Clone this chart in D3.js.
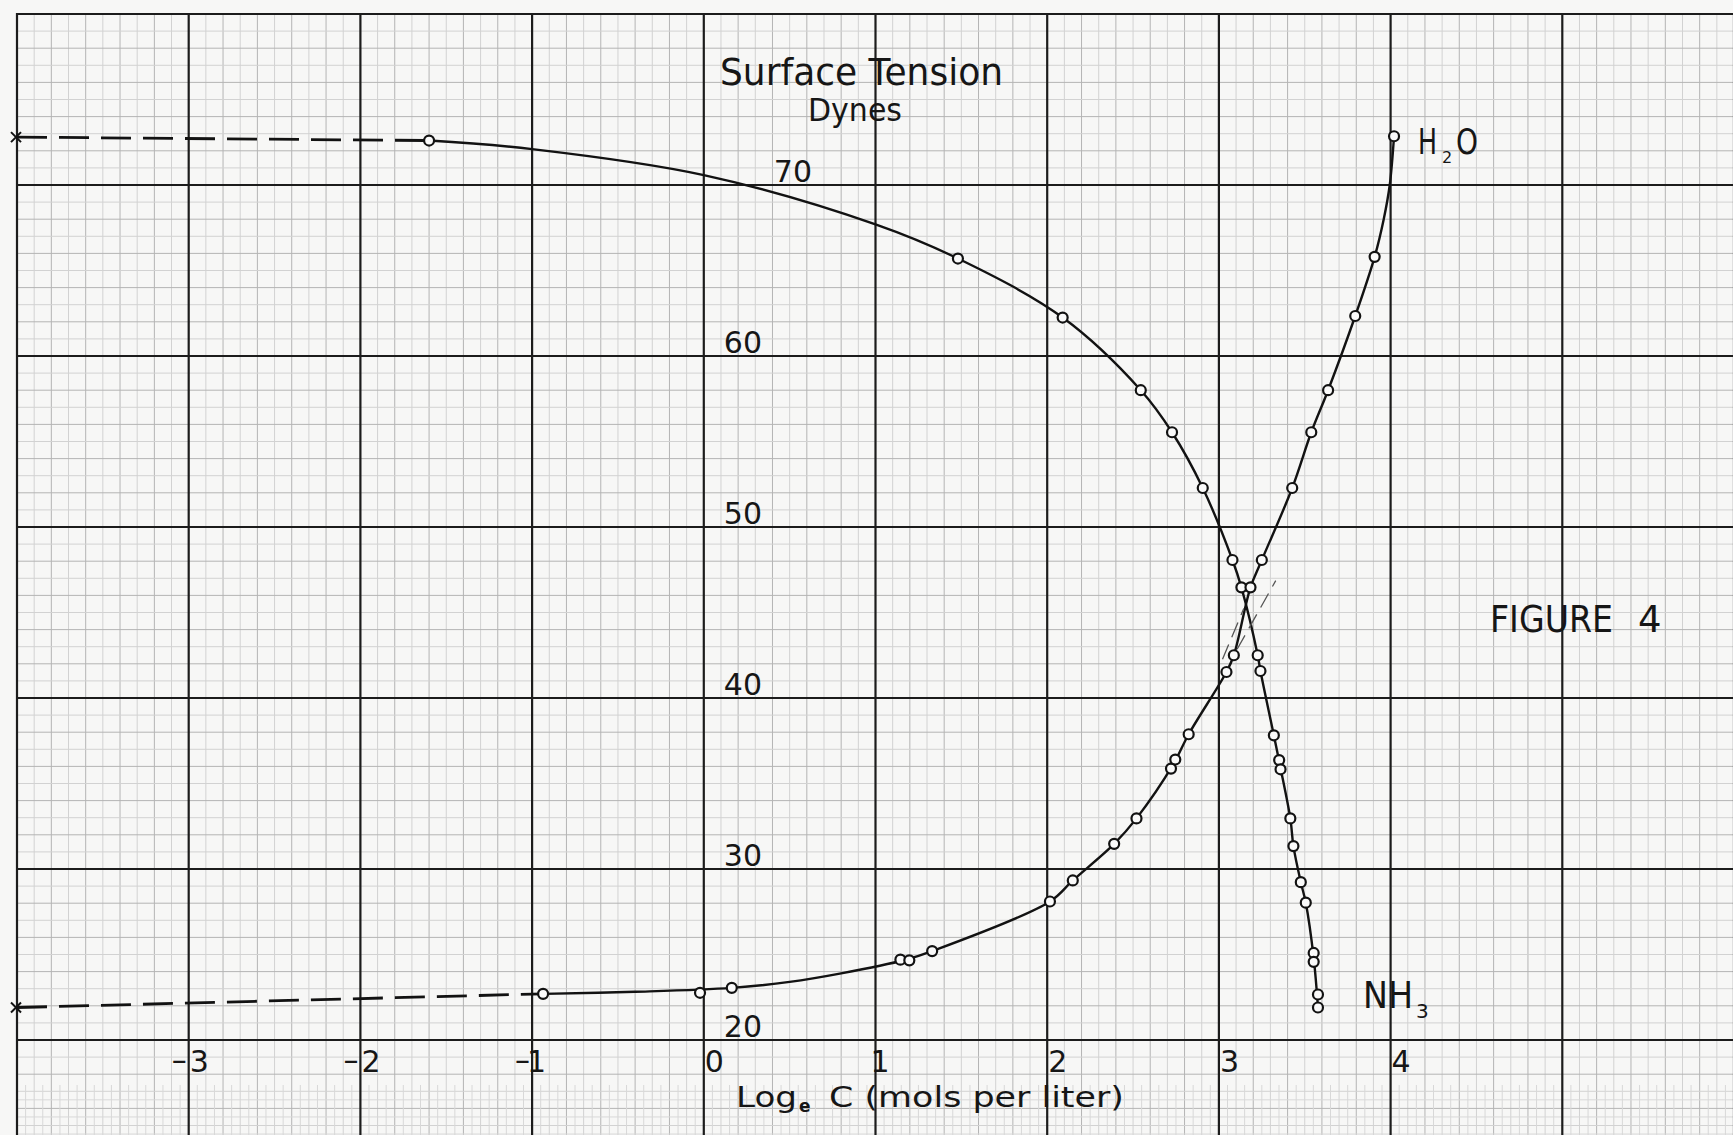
<!DOCTYPE html>
<html>
<head>
<meta charset="utf-8">
<script src="https://cdn.jsdelivr.net/npm/d3@7"></script>
<style>
  html, body { margin: 0; padding: 0; background: #f7f7f6; }
  svg { display: block; }
  text { font-family: "DejaVu Sans", "Noto Sans", sans-serif; fill: #161616; }
</style>
</head>
<body>
<svg id="chart" width="1733" height="1135"></svg>
<script>
// log_e C (mols per liter) vs surface tension (dynes)
const nh3LogC  = [-1.60, 1.48, 2.09, 2.545, 2.727, 2.906, 3.079, 3.131, 3.226, 3.242, 3.32, 3.351, 3.359, 3.416, 3.434, 3.477, 3.506, 3.552, 3.552, 3.577, 3.577];
const nh3Dynes = [72.6, 65.7, 62.25, 58.0, 55.54, 52.28, 48.07, 46.47, 42.5, 41.58, 37.82, 36.37, 35.83, 32.96, 31.34, 29.23, 28.03, 25.09, 24.57, 22.66, 21.9];

const h2oLogC  = [-0.936, -0.022, 0.163, 1.145, 1.197, 1.33, 2.016, 2.149, 2.39, 2.52, 2.721, 2.746, 2.824, 3.044, 3.087, 3.184, 3.25, 3.427, 3.538, 3.636, 3.794, 3.907, 4.02];
const h2oDynes = [22.7, 22.76, 23.05, 24.7, 24.66, 25.2, 28.1, 29.33, 31.47, 32.96, 35.87, 36.4, 37.88, 41.52, 42.5, 46.47, 48.07, 52.28, 55.54, 58.0, 62.34, 65.8, 72.85];

// the hand drawn curves
const nh3PenLogC  = [-1.60, -1.0, 0.0, 1.0, 1.48, 2.09, 2.545, 2.727, 2.906, 3.079, 3.131, 3.226, 3.242, 3.32, 3.355, 3.416, 3.434, 3.477, 3.506, 3.552, 3.577];
const nh3PenDynes = [72.6, 72.1, 70.58, 67.7, 65.7, 62.25, 58.0, 55.54, 52.28, 48.07, 46.47, 42.5, 41.58, 37.82, 36.1, 32.96, 31.34, 29.23, 28.03, 24.8, 21.9];

const h2oPenLogC  = [-0.936, -0.4, 0.163, 0.5, 0.8, 1.17, 1.33, 2.016, 2.149, 2.39, 2.52, 2.733, 2.824, 3.044, 3.087, 3.184, 3.25, 3.427, 3.538, 3.636, 3.794, 3.907, 3.96, 3.995, 4.02];
const h2oPenDynes = [22.7, 22.82, 23.05, 23.4, 23.9, 24.68, 25.2, 28.1, 29.33, 31.47, 32.96, 36.1, 37.88, 41.52, 42.5, 46.47, 48.07, 52.28, 55.54, 58.0, 62.34, 65.8, 68.0, 70.0, 72.85];

// dashed extrapolations to the pure liquids (x marks at the left edge)
const nh3DashLogC  = [-4.0, -1.60];
const nh3DashDynes = [72.8, 72.6];
const h2oDashLogC  = [-4.0, -0.936];
const h2oDashDynes = [21.9, 22.7];

// the two faint construction lines at the crossing
const guideFrom = [[3.021, 42.26], [3.106, 42.85]];
const guideTo   = [[3.145, 45.24], [3.331, 46.86]];

const xTicks = [-3, -2, -1, 0, 1, 2, 3, 4];
const yTicks = [20, 30, 40, 50, 60, 70];

const W = 1733, H = 1135;
const x = d3.scaleLinear().domain([-4, 6]).range([17, 1734]);
const y = d3.scaleLinear().domain([20, 80]).range([1040, 14]);

const svg = d3.select('#chart');
const paperTop = y(80), paperLeft = x(-4);

// ---- graph paper ----
const grid = svg.append('g').attr('class', 'grid');

const vMinor = d3.range(-40, 61).filter(i => i % 10 !== 0);
grid.selectAll('.vminor').data(vMinor).enter().append('line')
  .attr('x1', i => x(i / 10)).attr('x2', i => x(i / 10))
  .attr('y1', paperTop).attr('y2', H)
  .attr('stroke', i => i % 2 === 0 ? '#b4b4b4' : '#d2d2d2')
  .attr('stroke-width', 1);

const hMinor = d3.range(14, 81).filter(v => v % 10 !== 0);
grid.selectAll('.hminor').data(hMinor).enter().append('line')
  .attr('x1', paperLeft).attr('x2', W)
  .attr('y1', v => y(v)).attr('y2', v => y(v))
  .attr('stroke', v => v % 2 === 0 ? '#b4b4b4' : '#d2d2d2')
  .attr('stroke-width', 1);

// the strip under the axis is ruled twice as fine
const stripTop = 1085;
grid.selectAll('.vfine').data(d3.range(-40, 60)).enter().append('line')
  .attr('x1', i => x(i / 10 + 0.05)).attr('x2', i => x(i / 10 + 0.05))
  .attr('y1', stripTop).attr('y2', H)
  .attr('stroke', '#d8d8d8').attr('stroke-width', 1);
grid.selectAll('.hfine').data(d3.range(14.5, 17.5, 1)).enter().append('line')
  .attr('x1', paperLeft).attr('x2', W)
  .attr('y1', v => y(v)).attr('y2', v => y(v))
  .attr('stroke', '#d8d8d8').attr('stroke-width', 1);

grid.selectAll('.vmajor').data(d3.range(-4, 7)).enter().append('line')
  .attr('x1', d => x(d)).attr('x2', d => x(d))
  .attr('y1', paperTop - 1).attr('y2', H)
  .attr('stroke', '#1c1c1c').attr('stroke-width', 2.2);

grid.selectAll('.hmajor').data(d3.range(20, 81, 10)).enter().append('line')
  .attr('x1', paperLeft - 1).attr('x2', W)
  .attr('y1', d => y(d)).attr('y2', d => y(d))
  .attr('stroke', '#1c1c1c').attr('stroke-width', 2.2);

// ---- curves ----
const pen = d3.line()
  .x(d => x(d[0])).y(d => y(d[1]))
  .curve(d3.curveCatmullRom.alpha(0.5));

const marks = svg.append('g');

function drawSeries(penX, penY, dashX, dashY, dotX, dotY) {
  marks.append('path')
    .datum(penX.map((v, i) => [v, penY[i]]))
    .attr('d', pen)
    .attr('fill', 'none').attr('stroke', '#121212').attr('stroke-width', 2.4);

  marks.append('path')
    .datum(dashX.map((v, i) => [v, dashY[i]]))
    .attr('d', d3.line().x(d => x(d[0])).y(d => y(d[1])))
    .attr('fill', 'none').attr('stroke', '#121212').attr('stroke-width', 2.8)
    .attr('stroke-dasharray', '30 12');

  // x mark at the end of the dashes
  const cx = x(dashX[0]) - 1, cy = y(dashY[0]);
  marks.append('path')
    .attr('d', `M${cx - 5},${cy - 5}L${cx + 5},${cy + 5}M${cx - 5},${cy + 5}L${cx + 5},${cy - 5}`)
    .attr('stroke', '#121212').attr('stroke-width', 2);

  marks.selectAll(null)
    .data(dotX.map((v, i) => [v, dotY[i]]))
    .enter().append('circle')
    .attr('cx', d => x(d[0])).attr('cy', d => y(d[1]))
    .attr('r', 5)
    .attr('fill', '#fafafa').attr('stroke', '#121212').attr('stroke-width', 2.2);
}

drawSeries(nh3PenLogC, nh3PenDynes, nh3DashLogC, nh3DashDynes, nh3LogC, nh3Dynes);
drawSeries(h2oPenLogC, h2oPenDynes, h2oDashLogC, h2oDashDynes, h2oLogC, h2oDynes);

marks.selectAll('.guide')
  .data(guideFrom.map((d, i) => [d, guideTo[i]]))
  .enter().append('line')
  .attr('x1', d => x(d[0][0])).attr('y1', d => y(d[0][1]))
  .attr('x2', d => x(d[1][0])).attr('y2', d => y(d[1][1]))
  .attr('stroke', '#555').attr('stroke-width', 1.3)
  .attr('stroke-dasharray', '16 8');

// ---- tick labels ----
const labels = svg.append('g');

labels.selectAll('.ylab').data(yTicks).enter().append('text')
  .attr('x', d => d === 70 ? x(0) + 70 : x(0) + 20)
  .attr('y', d => y(d) - 3)
  .attr('font-size', 30)
  .text(d => d);

labels.selectAll('.xlab').data(xTicks).enter().append('text')
  .attr('x', d => x(d) + (Math.abs(d) === 1 ? -5 : 1))
  .attr('y', 1072)
  .attr('font-size', 30)
  .text(d => Math.abs(d));

labels.selectAll('.xminus').data(xTicks.filter(d => d < 0)).enter().append('text')
  .attr('x', d => x(d) - 2)
  .attr('y', 1070)
  .attr('text-anchor', 'end')
  .attr('font-size', 30)
  .text('\u2013');

// ---- titles ----
labels.append('text')
  .attr('x', 720).attr('y', 85)
  .attr('font-size', 38)
  .attr('textLength', 283).attr('lengthAdjust', 'spacingAndGlyphs')
  .text('Surface Tension');

labels.append('text')
  .attr('x', 808).attr('y', 121)
  .attr('font-size', 32)
  .attr('textLength', 94).attr('lengthAdjust', 'spacingAndGlyphs')
  .text('Dynes');

labels.append('text')
  .attr('x', 736).attr('y', 1107)
  .attr('font-size', 28)
  .attr('textLength', 61).attr('lengthAdjust', 'spacingAndGlyphs')
  .text('Log');
labels.append('text')
  .attr('x', 799).attr('y', 1112)
  .attr('font-size', 17).attr('font-weight', 'bold')
  .text('e');
labels.append('text')
  .attr('x', 829).attr('y', 1107)
  .attr('font-size', 28)
  .attr('textLength', 295).attr('lengthAdjust', 'spacingAndGlyphs')
  .text('C (mols per liter)');

labels.append('text')
  .attr('x', 1490).attr('y', 632)
  .attr('font-size', 37)
  .attr('textLength', 123).attr('lengthAdjust', 'spacingAndGlyphs')
  .text('FIGURE');
labels.append('text')
  .attr('x', 1638).attr('y', 632)
  .attr('font-size', 37)
  .text('4');

// series labels
labels.append('text')
  .attr('x', 1418).attr('y', 154)
  .attr('font-size', 36)
  .attr('textLength', 19).attr('lengthAdjust', 'spacingAndGlyphs')
  .text('H');
labels.append('text')
  .attr('x', 1442).attr('y', 163)
  .attr('font-size', 16)
  .text('2');
labels.append('text')
  .attr('x', 1456).attr('y', 154)
  .attr('font-size', 36)
  .attr('textLength', 22).attr('lengthAdjust', 'spacingAndGlyphs')
  .text('O');

labels.append('text')
  .attr('x', 1363).attr('y', 1008)
  .attr('font-size', 37)
  .attr('textLength', 50).attr('lengthAdjust', 'spacingAndGlyphs')
  .text('NH');
labels.append('text')
  .attr('x', 1416).attr('y', 1018)
  .attr('font-size', 20)
  .text('3');
</script>
</body>
</html>
